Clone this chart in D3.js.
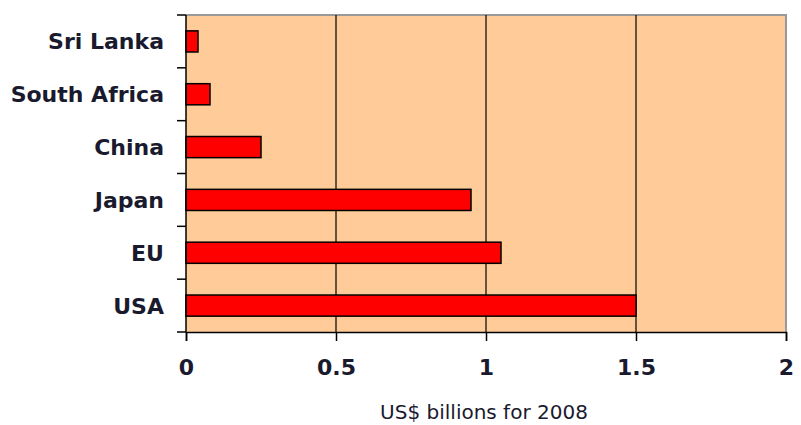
<!DOCTYPE html>
<html>
<head>
<meta charset="utf-8">
<script src="https://cdn.jsdelivr.net/npm/d3@7"></script>
<style>
  body { margin: 0; background: #fff; }
  svg { display: block; }
</style>
</head>
<body>
<svg width="801" height="425"></svg>
<script>
var countries = ["Sri Lanka", "South Africa", "China", "Japan", "EU", "USA"];
var values = [0.04, 0.08, 0.25, 0.95, 1.05, 1.5];
var xTicks = [0, 0.5, 1, 1.5, 2];
var xTitle = "US$ billions for 2008";

var svg = d3.select("svg");

var marginLeft = 186, marginTop = 15, width = 600, height = 317;

var xScale = d3.scaleLinear()
      .domain([0, 2])
      .range([0, width]);
var yScale = d3.scaleBand()
      .domain(countries)
      .range([0, height])
      .paddingInner(0.6)
      .paddingOuter(0.3);

var g = svg.append("g")
      .attr("transform", "translate(" + marginLeft + "," + marginTop + ")");

// plot background
g.append("rect")
      .attr("width", width)
      .attr("height", height)
      .attr("fill", "#ffcc99");

// top and right border
g.append("path")
      .attr("d", "M0,0H" + width + "V" + height)
      .attr("fill", "none")
      .attr("stroke", "#999")
      .attr("stroke-width", 2);

// gridlines
g.selectAll("line.grid")
      .data(xTicks.filter(d => d > 0 && d < 2))
      .enter()
      .append("line")
      .attr("class", "grid")
      .attr("x1", d => xScale(d))
      .attr("x2", d => xScale(d))
      .attr("y1", 0)
      .attr("y2", height)
      .attr("stroke", "#000")
      .attr("stroke-width", 1.2);

// bars
g.selectAll("rect.bar")
      .data(values)
      .enter()
      .append("rect")
      .attr("class", "bar")
      .attr("x", 0)
      .attr("y", (d, i) => yScale(countries[i]))
      .attr("width", d => xScale(d))
      .attr("height", yScale.bandwidth())
      .attr("fill", "#ff0000")
      .attr("stroke", "#000")
      .attr("stroke-width", 1.5);

// left axis: ticks between categories
var step = yScale.step();
var bounds = d3.range(countries.length + 1).map(i => i * step);
g.selectAll("line.ytick")
      .data(bounds)
      .enter()
      .append("line")
      .attr("class", "ytick")
      .attr("x1", -9)
      .attr("x2", 0)
      .attr("y1", d => d)
      .attr("y2", d => d)
      .attr("stroke", "#000")
      .attr("stroke-width", 1.5);
g.append("line")
      .attr("x1", 0).attr("x2", 0)
      .attr("y1", 0).attr("y2", height)
      .attr("stroke", "#000")
      .attr("stroke-width", 1.5);

g.selectAll("text.ylabel")
      .data(countries)
      .enter()
      .append("text")
      .attr("class", "ylabel")
      .attr("x", -22)
      .attr("y", d => yScale(d) + yScale.bandwidth() / 2)
      .attr("dy", "0.36em")
      .attr("text-anchor", "end")
      .attr("font-family", "DejaVu Sans")
      .attr("font-weight", "bold")
      .attr("font-size", 22)
      .attr("fill", "#1a1a2e")
      .text(d => d);

// bottom axis
var xAxis = d3.axisBottom(xScale)
      .tickValues(xTicks)
      .tickSize(9)
      .tickPadding(18)
      .tickFormat(d3.format("~g"));

var ax = g.append("g")
      .attr("transform", "translate(0," + height + ")")
      .call(xAxis);
ax.select(".domain").attr("stroke", "#000").attr("stroke-width", 1.5);
ax.selectAll(".tick line").attr("stroke", "#000").attr("stroke-width", 1.5);
ax.selectAll(".tick text")
      .attr("font-family", "DejaVu Sans")
      .attr("font-weight", "bold")
      .attr("font-size", 22)
      .attr("fill", "#1a1a2e");

svg.append("text")
      .attr("x", 484)
      .attr("y", 419)
      .attr("text-anchor", "middle")
      .attr("font-family", "DejaVu Sans")
      .attr("font-size", 20)
      .attr("fill", "#1a1a2e")
      .text(xTitle);
</script>
</body>
</html>
